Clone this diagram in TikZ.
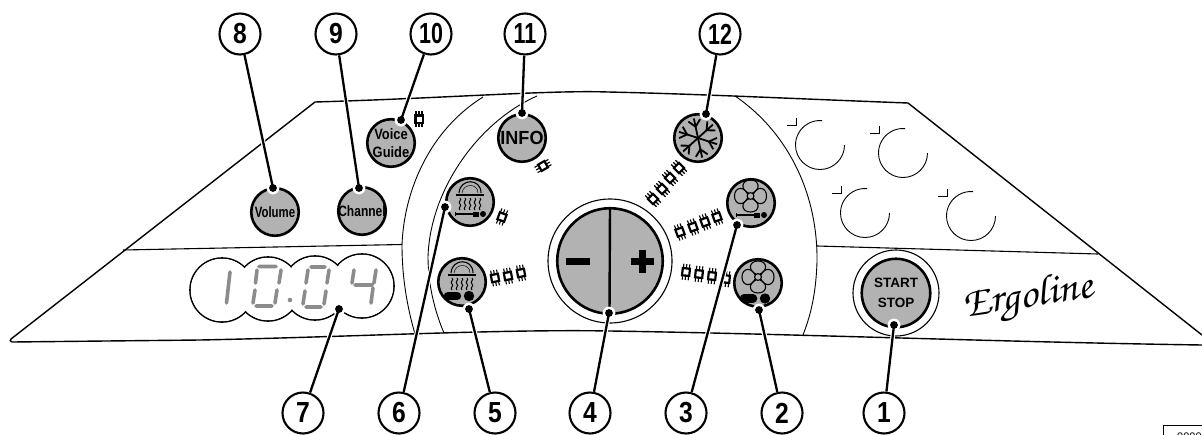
\documentclass[tikz,border=0pt]{standalone}
\usepackage{fontspec}
\setmainfont{Liberation Sans}
\newfontfamily\scriptfam{TeX Gyre Chorus}
\usetikzlibrary{calc}
\tikzset{
  x=1pt,y=-1pt,
  panel/.style={line width=1.4pt,black,line join=miter},
  thinl/.style={line width=0.9pt,black},
  btn/.style={circle,draw=black,fill=btngray,line width=2.6pt,inner sep=0pt,minimum size=47.5pt},
  callout/.style={circle,draw=black,fill=white,line width=2.1pt,inner sep=0pt,minimum size=41pt,
     font=\bfseries\fontsize{29}{29}\selectfont},
  leader/.style={line width=2.3pt,black},
  leaderhalo/.style={line width=4.6pt,white},
  seg/.style={line width=3.6pt,seggray,line cap=round},
  label/.style={font=\bfseries\fontsize{15}{16}\selectfont,inner sep=0pt,align=center}
}
\definecolor{btngray}{gray}{0.70}
\definecolor{seggray}{gray}{0.55}
% chip icon
\newcommand{\chipicon}[3]{%
 \begin{scope}[shift={(#1,#2)},rotate=#3]
  \foreach \u in {-3,0,3}{
    \draw[line width=1.1pt] (\u,-8) -- (\u,8);
  }
  \draw[line width=2.2pt,fill=white] (-3.6,-3.6) rectangle (3.6,3.6);
 \end{scope}}
\newcommand{\showericon}[2]{%
 \begin{scope}[shift={(#1,#2)}]
  \draw[line width=1.1pt] (-11,-9) .. controls (-10,-24) and (11,-24) .. (11,-9);
  \draw[line width=.5pt] (-8,-9) .. controls (-7,-19) and (8,-19) .. (8,-9);
  \draw[line width=1.2pt] (-14,-7) -- (14,-7);
  \foreach \u in {-10,-5,0,5,10}{
    \draw[line width=1pt] (\u,-4) .. controls (\u+2.6,-2) and (\u-2.6,-.5) .. (\u,2) .. controls (\u+2.6,4) and (\u-2.6,5.5) .. (\u,8);
  }
 \end{scope}}
\newcommand{\fanicon}[2]{%
 \begin{scope}[shift={(#1,#2)}]
  \foreach \a in {0,90,180,270}{
   \draw[line width=1.1pt,rotate=\a] (-2,-3) .. controls (-10,-6) and (-9.5,-16) .. (0,-16) .. controls (9.5,-16) and (10,-6) .. (2,-3);
  }
  \draw[line width=1.1pt,fill=btngray] (0,0) circle[radius=3.4pt];
 \end{scope}}
\newcommand{\brushbar}[2]{%
 \begin{scope}[shift={(#1,#2)}]
  \draw[line width=1.5pt] (-15,0) -- (4,0);
  \draw[line width=1pt] (-15,-2) -- (-15,2);
  \draw[line width=5pt] (3,0) -- (9,0);
  \fill (13,0) circle[radius=3pt];
 \end{scope}}
\newcommand{\bedbar}[2]{%
 \begin{scope}[shift={(#1,#2)}]
  \draw[line width=8.5pt,line cap=round] (-14,0) -- (-5,0);
  \fill (7,0) circle[radius=5.2pt];
 \end{scope}}
\newcommand{\thincirc}[2]{%
 \draw[thinl] ($(#1,#2)+(24.5,0)$) arc[start angle=0,end angle=-275,radius=24.5pt];
 \draw[thinl] ($(#1,#2)+(-33,-20)$) -- ($(#1,#2)+(-24,-20)$) -- ($(#1,#2)+(-24,-27)$);}
\begin{document}
\begin{tikzpicture}
\useasboundingbox (0,0) rectangle (1202,434);
% panel
\draw[panel] (12,342) .. controls (10,341.5) and (9.5,340) .. (11,339)
  -- (315,102) .. controls (450,98) and (550,90) .. (608,92) .. controls (700,94) and (800,99) .. (908,103)
  -- (1202,335);
\draw[panel] (12,342) -- (200,340) .. controls (350,337) and (500,329) .. (610,331)
   .. controls (800,334) and (1000,342) .. (1202,345);
\draw[thinl,line width=1.1pt] (123,250) -- (402,244.5);
\draw[thinl,line width=1.1pt] (817,246) -- (1098,254);
\draw[thinl] (483,97) .. controls (430,130) and (404,190) .. (402,245) .. controls (402,280) and (408,310) .. (415,334);
\draw[thinl] (537,96) .. controls (478,122) and (430,190) .. (428,257) .. controls (428,285) and (435,312) .. (444,333);
\draw[thinl] (735,96) .. controls (785,130) and (818,190) .. (817,262) .. controls (816,290) and (812,312) .. (803,335);
% thin circles
\thincirc{820}{145}
\thincirc{903}{153}
\thincirc{865}{213}
\thincirc{971}{216}
% display
\foreach \px/\py in {222/290,268/289,315/288,362/286}{
  \draw[line width=1.6pt] (\px,\py) circle[radius=32pt];
}
\foreach \px/\py in {222/290,268/289,315/288,362/286}{
  \fill[white] (\px,\py) circle[radius=31.2pt];
}
\draw[seg] (230,272) -- (226.5,303);
\draw[seg] (259,266.5) -- (276,266.5) (281,270) -- (279,283) (277,290) -- (275,303) (272,306) -- (256,306) (253,303) -- (255,290) (255.5,283) -- (257,270);
\fill[seggray] (290,300) circle[radius=2.3pt];
\draw[seg] (311,267) -- (325,267) (329,270) -- (327,283) (326,291) -- (324,304) (321,307) -- (306,307) (303,304) -- (305,291) (306,283) -- (308,270);
\draw[seg] (354,270) -- (352,283) (355,285) -- (372,285) (376,270) -- (374,283) (373,288) -- (371,303);
% chips
\chipicon{419}{119}{0}
\chipicon{543}{166}{-60}
\chipicon{679}{168}{45}\chipicon{670}{178}{45}\chipicon{662}{189}{45}\chipicon{653}{199}{45}
\chipicon{717}{217}{20}\chipicon{705}{222}{20}\chipicon{693}{227}{20}\chipicon{680}{232}{20}
\chipicon{686}{272}{-6}\chipicon{699}{274}{-6}\chipicon{712}{276}{-6}\chipicon{726}{279}{-6}
\chipicon{502}{217}{-20}
\chipicon{495}{278}{10}\chipicon{508}{276}{10}\chipicon{521}{273}{10}
% buttons
\node[btn] (volume) at (275,212) {};
\node[label,xscale=.76] at (volume) {Volume};
\node[btn] (channel) at (362,211) {};
\node[label,xscale=.8] at (channel) {Channel};
\node[btn] (voice) at (391,143) {};
\node[label,xscale=.86,font=\bfseries\fontsize{15}{17.5}\selectfont] at (voice) {Voice\\Guide};
\node[btn] (info) at (522,138) {};
\node[label,font=\bfseries\fontsize{19}{19}\selectfont,xscale=.95] at (info) {INFO};
\node[btn] (snow) at (698,138) {};
\begin{scope}[shift={(snow)}]
 \foreach \a in {0,60,...,300}{
  \begin{scope}[rotate=\a+12]
   \draw[line width=1.8pt] (0,0) -- (0,-20);
   \draw[line width=1.8pt] (-6,-18) -- (0,-11.5) -- (6,-18);
  \end{scope}
 }
\end{scope}
\node[btn] (fanb) at (751,203) {};
\fanicon{750.5}{196}
\brushbar{751}{215}
\node[btn] (fanc) at (758,283) {};
\fanicon{758}{277}
\bedbar{758}{298.5}
\node[btn] (showb) at (470,202) {};
\showericon{470}{202}
\brushbar{470}{214}
\node[btn] (showc) at (462,282) {};
\showericon{462}{282}
\bedbar{462}{296}
% big button
\draw[thinl,line width=1.1pt] (610,261) circle[radius=62pt];
\node[btn,minimum size=105.5pt] (big) at (610,261) {};
\draw[line width=2.4pt] (610,207) -- (609.5,313);
\fill (566,258) rectangle (590,264.5);
\fill (631,258) rectangle (654,264.5);
\fill (639,250) rectangle (646,273);
% start stop
\draw[thinl,line width=1.1pt] (896,293) circle[radius=43pt];
\node[btn,minimum size=68.5pt] (start) at (896,293) {};
\node[label,font=\bfseries\fontsize{13.5}{20}\selectfont] at (896,293) {START\\STOP};
% logo
\node[rotate=9,inner sep=0pt,font=\scriptfam\fontsize{42}{42}\selectfont,xscale=1.05] (logo) at (1028,298) {Ergoline};
% dots
\foreach \n/\px/\py in {d8/273/188,d9/359/188,d10/401/120,d11/522/113,d12/706/114,d3/737/225,d2/759/310,d4/609/313,d5/469/309,d6/445/207,d7/339/309,d1/894/325}{
  \coordinate (\n) at (\px,\py);
  \fill[white] (\n) circle[radius=6.4pt];
}
% callouts
\node[callout] (c8) at (240,34) {\scalebox{.85}[1]{8}};
\node[callout] (c9) at (336,34) {\scalebox{.85}[1]{9}};
\node[callout] (c10) at (431,34) {\scalebox{.74}[1]{10}};
\node[callout] (c11) at (525,34) {\scalebox{.74}[1]{11}};
\node[callout] (c12) at (720,34) {\scalebox{.74}[1]{12}};
\node[callout] (c7) at (303,413) {\scalebox{.85}[1]{7}};
\node[callout] (c6) at (399,413) {\scalebox{.85}[1]{6}};
\node[callout] (c5) at (495,413) {\scalebox{.85}[1]{5}};
\node[callout] (c4) at (590,413) {\scalebox{.85}[1]{4}};
\node[callout] (c3) at (686,413) {\scalebox{.85}[1]{3}};
\node[callout] (c2) at (782,413) {\scalebox{.85}[1]{2}};
\node[callout] (c1) at (884,413) {\scalebox{.85}[1]{1}};
% leaders
\foreach \i in {1,...,12}{
  \draw[leaderhalo] (c\i) -- (d\i);
}
\foreach \i in {1,...,12}{
  \draw[leader] (c\i) -- (d\i);
  \fill (d\i) circle[radius=3.9pt];
}
% code box
\draw[line width=.8pt] (1203,425) -- (1163.5,425) -- (1163.5,435);
\node[inner sep=0pt,anchor=base west,font=\fontsize{11}{11}\selectfont] (code) at (1177,440) {0000};
\end{tikzpicture}
\end{document}
